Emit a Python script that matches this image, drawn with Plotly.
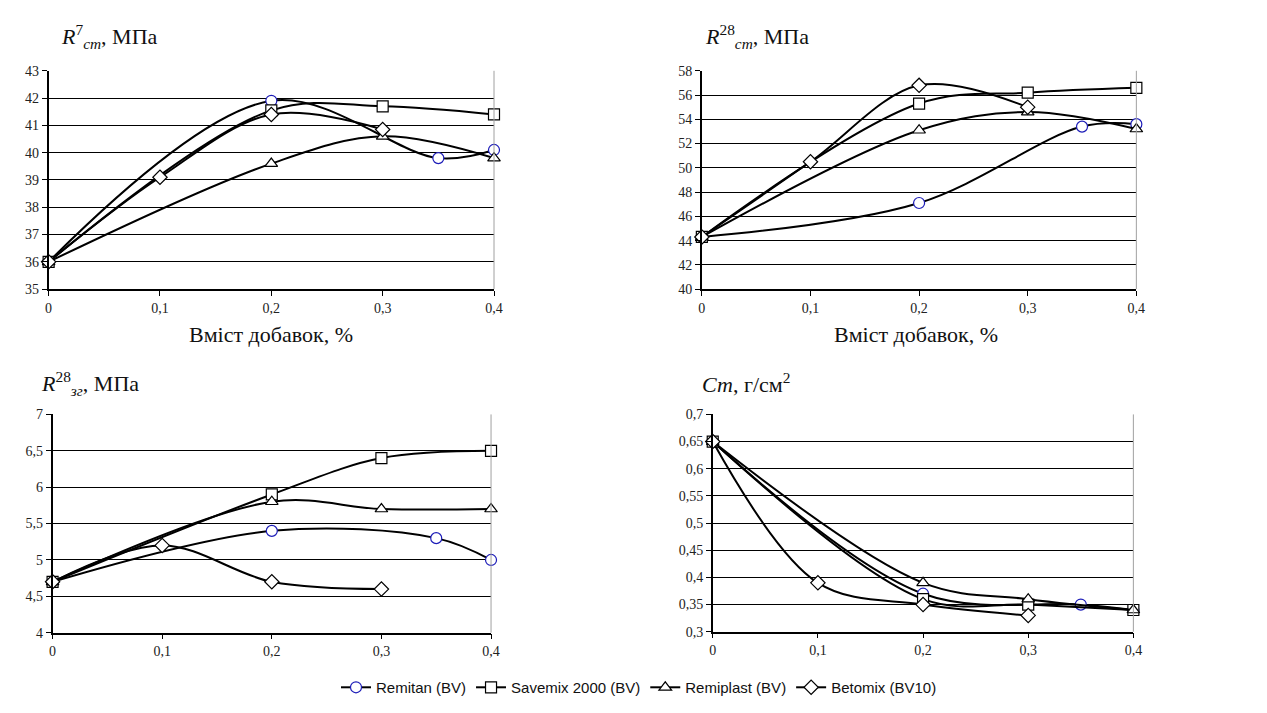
import plotly.graph_objects as go

# ---- data ----
series_names = ["Remitan (BV)", "Savemix 2000 (BV)", "Remiplast (BV)", "Betomix (BV10)"]
x_remitan = [0, 0.2, 0.35, 0.4]
x_savemix = [0, 0.2, 0.3, 0.4]
x_remiplast = [0, 0.2, 0.3, 0.4]
x_betomix = [0, 0.1, 0.2, 0.3]

# R7 compressive, MPa
r7_remitan = [36.0, 41.9, 39.8, 40.1]
r7_savemix = [36.0, 41.55, 41.7, 41.4]
r7_remiplast = [36.0, 39.6, 40.6, 39.8]
r7_betomix = [36.0, 39.1, 41.4, 40.85]

# R28 compressive, MPa
r28_remitan = [44.3, 47.1, 53.4, 53.6]
r28_savemix = [44.3, 55.3, 56.2, 56.6]
r28_remiplast = [44.3, 53.1, 54.6, 53.2]
r28_betomix = [44.3, 50.5, 56.8, 55.0]

# R28 bending, MPa
rb_remitan = [4.7, 5.4, 5.3, 5.0]
rb_savemix = [4.7, 5.9, 6.4, 6.5]
rb_remiplast = [4.7, 5.8, 5.7, 5.7]
rb_betomix = [4.7, 5.2, 4.7, 4.6]

# Ст, g/cm2
ct_remitan = [0.65, 0.37, 0.35, 0.34]
ct_savemix = [0.65, 0.36, 0.35, 0.34]
ct_remiplast = [0.65, 0.39, 0.36, 0.34]
ct_betomix = [0.65, 0.39, 0.35, 0.33]

x_ticks = [0, 0.1, 0.2, 0.3, 0.4]
x_ticklabels = ["0", "0,1", "0,2", "0,3", "0,4"]
x_title = "Вміст добавок, %"
titles = [
    "<i>R</i><sup>7</sup><sub><i>ст</i></sub>, МПа",
    "<i>R</i><sup>28</sup><sub><i>ст</i></sub>, МПа",
    "<i>R</i><sup>28</sup><sub><i>зг</i></sub>, МПа",
    "<i>Ст</i>, г/см<sup>2</sup>",
]

W, H = 1267, 713
SERIF = "Liberation Serif, Times New Roman, serif"
SANS = "Liberation Sans, Arial, sans-serif"

styles = [
    dict(symbol="circle", color="#1c1cb8", size=11),
    dict(symbol="square", color="#000000", size=11),
    dict(symbol="triangle-up", color="#000000", size=11),
    dict(symbol="diamond", color="#000000", size=11),
]

panels = [
    dict(xs=[x_remitan, x_savemix, x_remiplast, x_betomix],
         ys=[r7_remitan, r7_savemix, r7_remiplast, r7_betomix],
         yr=[35, 43], dt=1, box=(37, 487, 57, 280)),
    dict(xs=[x_remitan, x_savemix, x_remiplast, x_betomix],
         ys=[r28_remitan, r28_savemix, r28_remiplast, r28_betomix],
         yr=[40, 58], dt=2, box=(697, 1136, 57, 280)),
    dict(xs=[x_remitan, x_savemix, x_remiplast, x_betomix],
         ys=[rb_remitan, rb_savemix, rb_remiplast, rb_betomix],
         yr=[4, 7], dt=0.5, box=(41, 484, 408, 631)),
    dict(xs=[x_remitan, x_savemix, x_remiplast, x_betomix],
         ys=[ct_remitan, ct_savemix, ct_remiplast, ct_betomix],
         yr=[0.3, 0.7], dt=0.05, box=(708, 1133, 408, 630)),
]

fig = go.Figure()
layout = dict(
    width=W, height=H, margin=dict(l=0, r=0, t=0, b=0),
    paper_bgcolor="white", plot_bgcolor="white",
    separators=", ", showlegend=True,
    legend=dict(orientation="h", x=0.5, xanchor="center", y=1 - 687 / H, yanchor="middle",
                font=dict(family=SANS, size=15, color="#111"), itemwidth=30,
                tracegroupgap=0, bgcolor="rgba(0,0,0,0)"),
)
shapes = []
annotations = []

for i, p in enumerate(panels):
    n = i + 1
    xa = "x" if n == 1 else f"x{n}"
    ya = "y" if n == 1 else f"y{n}"
    x0, x1, yt, yb = p["box"]
    layout[f"xaxis{'' if n == 1 else n}"] = dict(
        domain=[x0 / W, x1 / W], range=[0, 0.4], anchor=ya,
        tickvals=x_ticks, ticktext=x_ticklabels, showgrid=False, zeroline=False,
        showline=True, linecolor="black", linewidth=1.5,
        ticks="outside", ticklen=5, tickcolor="black",
        tickfont=dict(family=SERIF, size=14, color="#222"),
    )
    layout[f"yaxis{'' if n == 1 else n}"] = dict(
        domain=[1 - yb / H, 1 - yt / H], range=p["yr"], anchor=xa, dtick=p["dt"],
        tick0=p["yr"][0], showgrid=True, gridcolor="black", gridwidth=1, zeroline=False,
        showline=True, linecolor="black", linewidth=1.5,
        ticks="outside", ticklen=5, tickcolor="black",
        tickfont=dict(family=SERIF, size=14, color="#222"),
    )
    # right border (light gray)
    shapes.append(dict(type="line", xref=f"{xa} domain", yref=f"{ya} domain",
                       x0=1, x1=1, y0=0, y1=1, line=dict(color="#a0a0a0", width=1)))
    for k in range(4):
        st = styles[k]
        fig.add_trace(go.Scatter(
            x=p["xs"][k], y=p["ys"][k], xaxis=xa, yaxis=ya,
            name=series_names[k], legendgroup=series_names[k], showlegend=(i == 0),
            mode="lines+markers", cliponaxis=False,
            line=dict(color="black", width=2, shape="spline", smoothing=1.0),
            marker=dict(symbol=st["symbol"], size=st["size"], color="white",
                        line=dict(color=st["color"], width=1.2)),
        ))

title_pos = [(47, 22), (698, 22), (27, 376), (695, 376)]
for (tx, ty), t in zip(title_pos, titles):
    annotations.append(dict(text=t, xref="paper", yref="paper", x=tx / W, y=1 - ty / H,
                            xanchor="left", yanchor="middle", showarrow=False,
                            font=dict(family=SERIF, size=22, color="#111")))
for cx in (262, 913):
    annotations.append(dict(text=x_title, xref="paper", yref="paper", x=cx / W, y=1 - 326 / H,
                            xanchor="center", yanchor="middle", showarrow=False,
                            font=dict(family=SERIF, size=22, color="#111")))

layout["shapes"] = shapes
layout["annotations"] = annotations
fig.update_layout(**layout)
fig.write_html("out.html")
